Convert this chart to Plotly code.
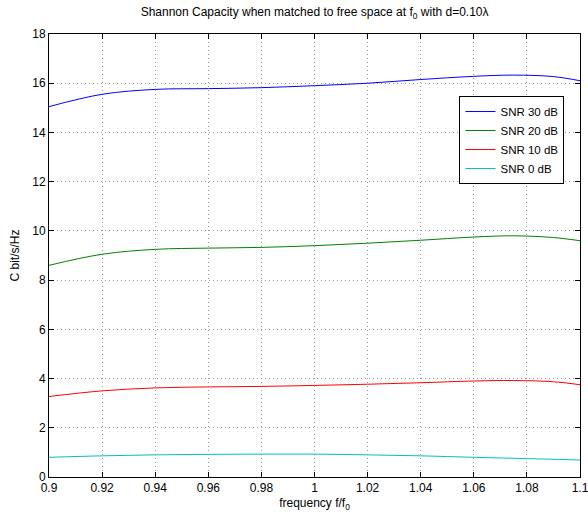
import plotly.graph_objects as go

freq = [0.90, 0.92, 0.94, 0.96, 0.98, 1.00, 1.02, 1.04, 1.06, 1.075, 1.09, 1.10]
snr30 = [15.05, 15.55, 15.75, 15.78, 15.82, 15.90, 16.00, 16.15, 16.28, 16.33, 16.27, 16.10]
snr20 = [8.60, 9.05, 9.25, 9.30, 9.33, 9.40, 9.50, 9.62, 9.75, 9.80, 9.73, 9.60]
snr10 = [3.27, 3.50, 3.62, 3.66, 3.68, 3.72, 3.77, 3.83, 3.90, 3.92, 3.87, 3.75]
snr0 = [0.80, 0.86, 0.90, 0.92, 0.93, 0.93, 0.90, 0.86, 0.80, 0.76, 0.72, 0.69]

names = ["SNR 30 dB", "SNR 20 dB", "SNR 10 dB", "SNR 0 dB"]
colors = ["#0000ff", "#008000", "#ff0000", "#00bfbf"]
series = [snr30, snr20, snr10, snr0]

xticks = [0.9, 0.92, 0.94, 0.96, 0.98, 1.0, 1.02, 1.04, 1.06, 1.08, 1.1]
xticklabels = ["0.9", "0.92", "0.94", "0.96", "0.98", "1", "1.02", "1.04", "1.06", "1.08", "1.1"]
yticks = [0, 2, 4, 6, 8, 10, 12, 14, 16, 18]

fig = go.Figure()
for n, c, s in zip(names, colors, series):
    fig.add_trace(go.Scatter(x=freq, y=s, name=n, mode="lines",
                             line=dict(color=c, width=1, shape="spline", smoothing=1.0)))

font = dict(family="Liberation Sans, Arial, sans-serif", size=12, color="black")
axis_common = dict(showline=True, linecolor="black", linewidth=1, mirror="ticks",
                   ticks="inside", ticklen=5, tickcolor="black",
                   showgrid=True, gridcolor="#999999", griddash="1px,3px", gridwidth=1,
                   zeroline=False, tickfont=font, ticklabeloverflow="allow",
                   automargin=False)

fig.update_layout(
    width=588, height=516,
    margin=dict(l=49, r=8, t=34, b=39),
    paper_bgcolor="white", plot_bgcolor="white",
    font=font,
    title=dict(text="Shannon Capacity when matched to free space at f<sub>0</sub> with d=0.10λ",
               x=0.535, xanchor="center", y=0.985, yanchor="top", font=dict(size=12)),
    xaxis=dict(range=[0.9, 1.1], tickvals=xticks, ticktext=xticklabels,
               title=dict(text="frequency f/f<sub>0</sub>", standoff=4, font=dict(size=12)),
               **axis_common),
    yaxis=dict(range=[0, 18], tickvals=yticks,
               title=dict(text="C bit/s/Hz", standoff=10, font=dict(size=12)),
               **axis_common),
    legend=dict(x=0.773, y=0.86, xanchor="left", yanchor="top",
                bgcolor="white", bordercolor="black", borderwidth=1,
                font=dict(size=11.5), tracegroupgap=0, itemwidth=30),
    showlegend=True,
)

fig.write_html("out.html")
